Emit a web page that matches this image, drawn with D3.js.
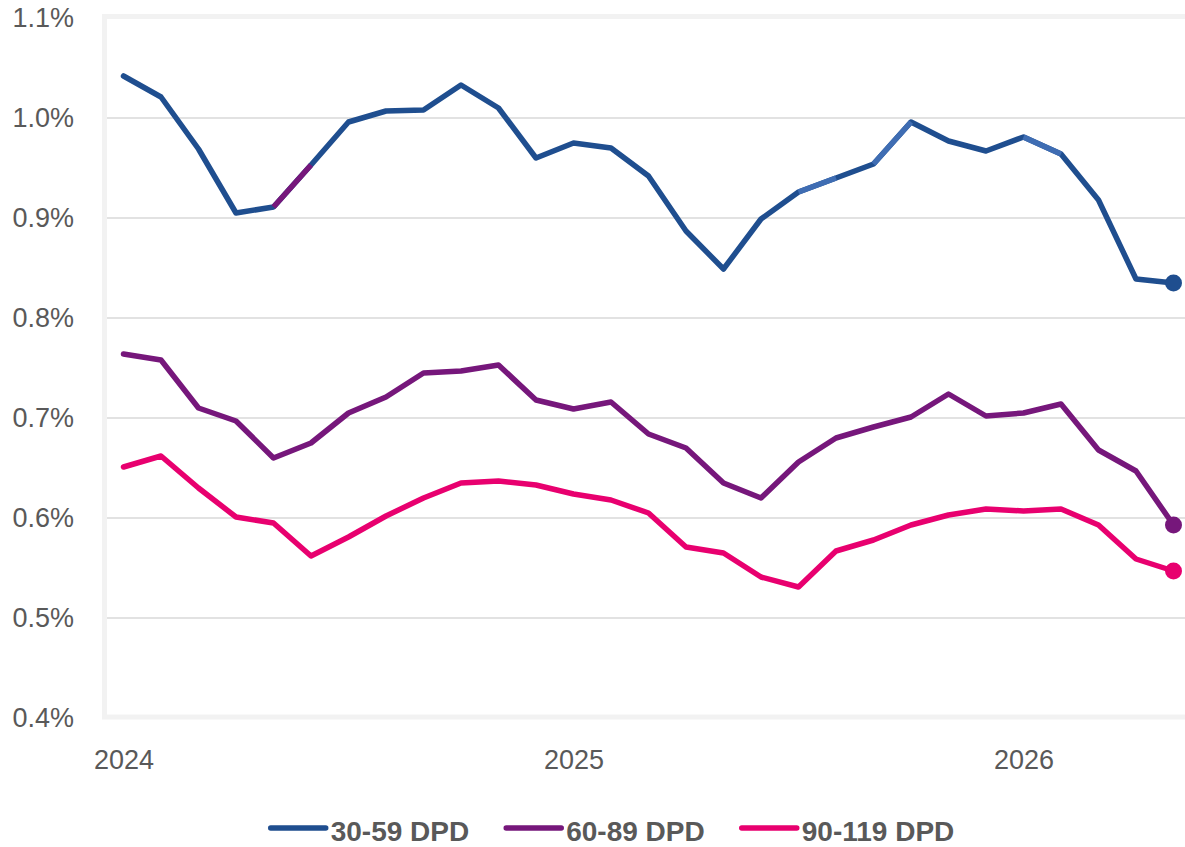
<!DOCTYPE html>
<html>
<head>
<meta charset="utf-8">
<script src="https://cdn.jsdelivr.net/npm/d3@7"></script>
<style>
  html, body { margin: 0; padding: 0; background: #ffffff; }
  svg { display: block; }
  text { font-family: "Liberation Sans", Arial, sans-serif; fill: #595959; }
</style>
</head>
<body>
<svg id="chart" width="1185" height="847"></svg>
<script>
// Monthly delinquency rates (% of balances), Jan 2024 – May 2026
const months = [
  "2024-01","2024-02","2024-03","2024-04","2024-05","2024-06","2024-07","2024-08","2024-09","2024-10","2024-11","2024-12",
  "2025-01","2025-02","2025-03","2025-04","2025-05","2025-06","2025-07","2025-08","2025-09","2025-10","2025-11","2025-12",
  "2026-01","2026-02","2026-03","2026-04","2026-05"
];
const dpd30 = [1.042,1.021,0.969,0.905,0.911,0.953,0.996,1.007,1.008,1.033,1.010,0.960,
               0.975,0.970,0.942,0.887,0.849,0.899,0.926,0.940,0.954,0.996,0.977,0.967,
               0.981,0.964,0.918,0.839,0.835];
const dpd60 = [0.764,0.758,0.710,0.697,0.660,0.675,0.705,0.721,0.745,0.747,0.753,0.718,
               0.709,0.716,0.684,0.670,0.635,0.620,0.656,0.680,0.691,0.701,0.724,0.702,
               0.705,0.714,0.668,0.647,0.593];
const dpd90 = [0.651,0.662,0.630,0.601,0.595,0.562,0.581,0.602,0.620,0.635,0.637,0.633,
               0.624,0.618,0.605,0.571,0.565,0.541,0.531,0.567,0.578,0.593,0.603,0.609,
               0.607,0.609,0.593,0.559,0.547];
const seriesNames = ["30-59 DPD", "60-89 DPD", "90-119 DPD"];
const yTicks = [0.4, 0.5, 0.6, 0.7, 0.8, 0.9, 1.0, 1.1];
const xTicks = ["2024-01", "2025-01", "2026-01"];

// Styling
const colors = ["#1f4e8f", "#76177b", "#e8006f"];
const lightBlue = "#3f6db3";
// segment colour overrides for the 30-59 line, keyed by segment start index
const segmentColors = [{4: colors[1], 18: lightBlue, 20: lightBlue, 24: lightBlue}, {}, {}];
const lineWidth = 5.5;

const series = [dpd30, dpd60, dpd90].map((values, k) => ({
  name: seriesNames[k],
  color: colors[k],
  overrides: segmentColors[k],
  points: values.map((v, i) => ({ month: months[i], value: v }))
}));

const svg = d3.select("#chart");

const x = d3.scalePoint().domain(months).range([123.5, 1173.5]).padding(0);
const y = d3.scaleLinear().domain([0.4, 1.1]).range([718, 18]);

// plot-area frame
svg.append("rect")
  .attr("x", 104.5).attr("y", 16.5)
  .attr("width", 1100).attr("height", 700.5)
  .attr("fill", "none")
  .attr("stroke", "#f2f2f2")
  .attr("stroke-width", 5);

// horizontal gridlines
svg.append("g")
  .selectAll("line")
  .data(yTicks.filter(t => t > 0.4 && t < 1.1))
  .join("line")
  .attr("x1", 107).attr("x2", 1185)
  .attr("y1", d => y(d)).attr("y2", d => y(d))
  .attr("stroke", "#d9d9d9")
  .attr("stroke-width", 1.4);

// y axis labels
const yAxis = d3.axisLeft(y)
  .tickValues(yTicks)
  .tickFormat(d => d3.format(".1f")(d) + "%")
  .tickSize(0)
  .tickPadding(0);
svg.append("g")
  .attr("transform", "translate(74,0)")
  .call(yAxis)
  .call(g => g.select(".domain").remove())
  .call(g => g.selectAll("text")
    .style("font-family", '"Liberation Sans", Arial, sans-serif')
    .style("font-size", "27px")
    .attr("fill", "#595959"));

// x axis labels (years)
const xAxis = d3.axisBottom(x)
  .tickValues(xTicks)
  .tickFormat(d => d.slice(0, 4))
  .tickSize(0)
  .tickPadding(32);
svg.append("g")
  .attr("transform", "translate(0,718)")
  .call(xAxis)
  .call(g => g.select(".domain").remove())
  .call(g => g.selectAll("text")
    .style("font-family", '"Liberation Sans", Arial, sans-serif')
    .style("font-size", "27px")
    .attr("fill", "#595959"));

// lines, drawn segment by segment so individual segments can carry their own colour
const lines = svg.append("g");
series.forEach(s => {
  const segs = d3.pairs(s.points).map((pair, i) => ({ pair, color: s.overrides[i] || s.color }));
  const lineGen = d3.line().x(d => x(d.month)).y(d => y(d.value));
  lines.append("path")
    .attr("d", lineGen(s.points))
    .attr("fill", "none")
    .attr("stroke", s.color)
    .attr("stroke-width", lineWidth)
    .attr("stroke-linejoin", "round")
    .attr("stroke-linecap", "round");
  lines.selectAll(null)
    .data(segs.filter(d => d.color !== s.color))
    .join("path")
    .attr("d", d => lineGen(d.pair))
    .attr("fill", "none")
    .attr("stroke", d => d.color)
    .attr("stroke-width", lineWidth)
    .attr("stroke-linecap", "butt");
  const last = s.points[s.points.length - 1];
  lines.append("circle")
    .attr("cx", x(last.month))
    .attr("cy", y(last.value))
    .attr("r", 8.5)
    .attr("fill", s.color);
});

// legend
const legend = svg.append("g");
const items = legend.selectAll("g")
  .data(series)
  .join("g");
items.append("line")
  .attr("x1", 0).attr("x2", 55)
  .attr("y1", 828).attr("y2", 828)
  .attr("stroke", d => d.color)
  .attr("stroke-width", lineWidth)
  .attr("stroke-linecap", "round");
items.append("text")
  .attr("x", 60)
  .attr("y", 841)
  .style("font-size", "28px")
  .style("font-weight", "bold")
  .attr("fill", "#595959")
  .text(d => d.name);
const widths = [];
items.each(function () { widths.push(60 + d3.select(this).select("text").node().getComputedTextLength()); });
const gap = 37;
const total = d3.sum(widths) + gap * (widths.length - 1);
let cursor = 612.5 - total / 2;
items.attr("transform", (d, i) => {
  const t = `translate(${cursor},0)`;
  cursor += widths[i] + gap;
  return t;
});
</script>
</body>
</html>
